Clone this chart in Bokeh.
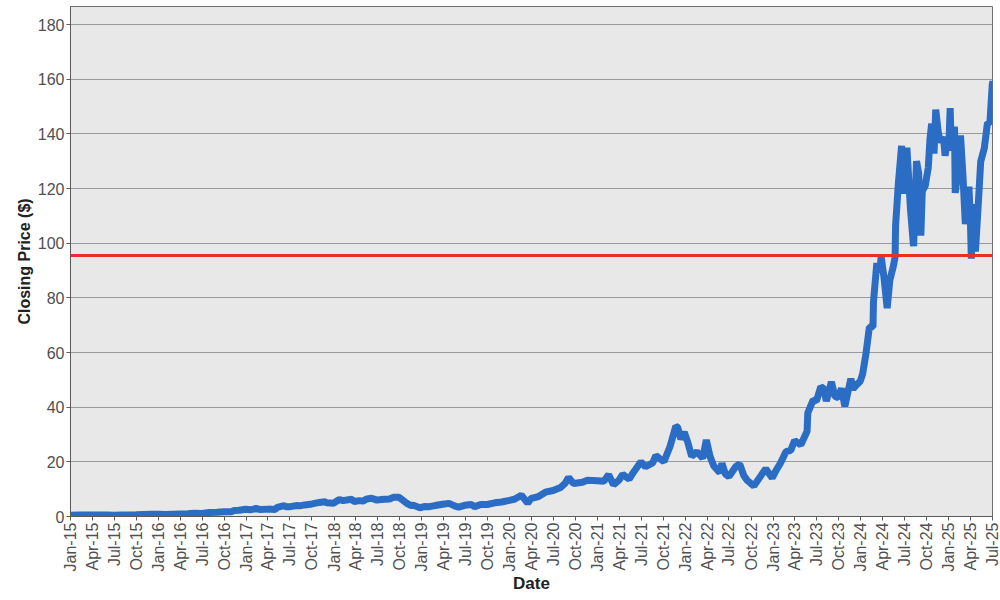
import pandas as pd
from math import pi
from bokeh.plotting import figure
from bokeh.models import FixedTicker, DatetimeTickFormatter, Span, Range1d, ColumnDataSource
from bokeh.embed import file_html
from bokeh.resources import INLINE

# ---- data ----
dates = [
    "2015-01-02", "2015-02-02", "2015-03-02", "2015-04-01", "2015-05-01", "2015-06-01", "2015-07-01",
    "2015-08-03", "2015-09-01", "2015-10-01", "2015-11-02", "2015-12-01",
    "2016-01-04", "2016-02-01", "2016-03-01", "2016-04-01", "2016-05-02", "2016-05-13", "2016-06-01",
    "2016-07-01", "2016-08-01", "2016-09-01", "2016-10-03", "2016-11-01", "2016-11-11", "2016-12-01", "2016-12-30",
    "2017-01-17", "2017-02-01", "2017-02-10", "2017-03-01", "2017-04-03", "2017-05-01", "2017-05-10",
    "2017-06-08", "2017-06-15", "2017-07-03", "2017-08-01", "2017-08-11", "2017-09-01", "2017-10-02",
    "2017-11-01", "2017-11-24", "2017-12-01", "2017-12-29",
    "2018-01-23", "2018-02-08", "2018-03-01", "2018-03-13", "2018-03-27", "2018-04-16", "2018-05-01",
    "2018-05-14", "2018-06-06", "2018-06-28", "2018-07-16", "2018-08-01", "2018-08-20", "2018-09-04",
    "2018-09-28", "2018-10-10", "2018-10-29", "2018-11-16", "2018-11-27", "2018-12-24",
    "2019-01-15", "2019-02-01", "2019-02-25", "2019-03-29", "2019-04-24", "2019-05-17", "2019-06-03",
    "2019-06-28", "2019-07-25", "2019-08-09", "2019-09-03", "2019-09-30", "2019-10-31", "2019-11-29", "2019-12-31",
    "2020-01-21", "2020-02-19", "2020-03-16", "2020-03-31", "2020-04-30", "2020-05-29", "2020-06-30",
    "2020-07-31", "2020-08-19", "2020-09-02", "2020-09-23", "2020-10-30", "2020-11-20", "2020-12-31",
    "2021-01-27", "2021-02-16", "2021-03-08", "2021-03-31", "2021-04-15", "2021-05-12", "2021-05-31",
    "2021-06-30", "2021-07-19", "2021-08-18", "2021-08-31", "2021-09-20", "2021-10-04", "2021-10-29",
    "2021-11-22", "2021-11-30", "2021-12-13", "2021-12-27",
    "2022-01-10", "2022-01-27", "2022-02-18", "2022-03-14", "2022-03-29", "2022-04-14", "2022-04-29",
    "2022-05-24", "2022-06-02", "2022-06-16", "2022-07-01", "2022-07-29", "2022-08-15", "2022-08-31",
    "2022-09-15", "2022-09-30", "2022-10-13", "2022-10-31", "2022-11-23", "2022-12-01", "2022-12-28",
    "2023-01-13", "2023-01-31", "2023-02-23", "2023-03-15", "2023-03-31", "2023-04-26", "2023-05-22",
    "2023-05-25", "2023-06-16", "2023-06-30", "2023-07-18", "2023-07-31", "2023-08-10", "2023-08-31",
    "2023-09-15", "2023-09-29", "2023-10-12", "2023-10-26", "2023-11-20", "2023-11-30", "2023-12-13", "2023-12-29",
    "2024-01-08", "2024-01-22", "2024-02-05", "2024-02-20", "2024-02-22", "2024-03-07", "2024-03-19",
    "2024-03-25", "2024-04-05", "2024-04-19", "2024-04-30", "2024-05-14", "2024-05-22", "2024-05-24",
    "2024-06-05", "2024-06-18", "2024-06-24", "2024-07-10", "2024-07-25", "2024-08-05", "2024-08-07",
    "2024-08-19", "2024-08-28", "2024-09-06", "2024-09-12", "2024-09-24", "2024-10-07", "2024-10-14",
    "2024-10-21", "2024-10-31", "2024-11-07", "2024-11-18", "2024-11-26", "2024-12-09", "2024-12-16",
    "2024-12-20", "2024-12-31",
    "2025-01-06", "2025-01-10", "2025-01-24", "2025-01-27", "2025-02-05", "2025-02-18", "2025-02-28",
    "2025-03-10", "2025-03-25", "2025-03-31", "2025-04-04", "2025-04-09", "2025-04-21", "2025-05-01",
    "2025-05-13", "2025-05-28", "2025-06-10", "2025-06-20", "2025-06-30", "2025-07-03",
]
close = [
    0.48, 0.55, 0.54, 0.53, 0.54, 0.55, 0.49, 0.55, 0.55, 0.62, 0.76, 0.82,
    0.78, 0.72, 0.86, 0.90, 0.88, 1.10, 1.18, 1.14, 1.45, 1.56, 1.74, 1.72, 2.22, 2.30, 2.67,
    2.50, 2.70, 2.96, 2.53, 2.70, 2.60, 3.30, 3.95, 3.60, 3.60, 4.05, 3.90, 4.24, 4.60, 5.15, 5.40, 5.00, 4.84,
    6.20, 5.80, 6.10, 6.30, 5.50, 5.80, 5.62, 6.30, 6.70, 6.00, 6.20, 6.30, 6.40, 7.00, 7.00, 6.20, 4.90,
    4.00, 4.10, 3.20,
    3.70, 3.60, 4.00, 4.50, 4.80, 3.90, 3.40, 4.10, 4.40, 3.60, 4.40, 4.40, 5.00, 5.30, 5.90,
    6.30, 7.80, 4.90, 6.60, 7.30, 8.90, 9.50, 10.6, 12.2, 14.3, 12.1, 12.5, 13.3, 13.1,
    12.9, 15.3, 11.6, 13.3, 15.4, 13.7, 16.3, 20.0, 18.2, 19.6, 22.3, 20.9, 20.1, 25.6, 33.0, 32.6, 28.3, 30.9,
    27.4, 22.0, 23.7, 21.3, 28.0, 21.8, 18.5, 16.0, 19.5, 15.6, 14.6, 18.2, 19.2, 15.1, 13.2, 12.1, 11.2,
    13.5, 16.5, 17.5, 14.1,
    16.9, 19.5, 23.7, 24.2, 27.8, 26.2, 31.2, 37.9, 42.6, 42.3, 47.5, 46.7, 42.2, 49.3, 43.9, 43.5, 46.9,
    40.3, 50.4, 46.8, 48.1, 49.5,
    52.2, 59.7, 69.3, 69.4, 78.5, 92.7, 89.4, 95.0, 88.0, 76.2, 86.4, 91.3, 94.9, 106.5, 122.4, 135.6,
    118.1, 134.9, 112.3, 100.5, 98.9, 130.0, 125.6, 102.8, 119.1, 120.9, 127.7, 138.1, 143.7, 132.8,
    148.9, 140.2, 136.9, 138.8, 132.0, 134.7, 134.3,
    149.4, 135.9, 142.6, 118.4, 124.8, 139.4, 124.9, 107.0, 120.7, 108.4, 94.3, 114.3, 96.9, 111.6,
    129.9, 134.8, 144.0, 143.9, 158.0, 159.3,
]
reference_level = 95.5
tick_dates = [
    "2015-01-01", "2015-04-01", "2015-07-01", "2015-10-01",
    "2016-01-01", "2016-04-01", "2016-07-01", "2016-10-01",
    "2017-01-01", "2017-04-01", "2017-07-01", "2017-10-01",
    "2018-01-01", "2018-04-01", "2018-07-01", "2018-10-01",
    "2019-01-01", "2019-04-01", "2019-07-01", "2019-10-01",
    "2020-01-01", "2020-04-01", "2020-07-01", "2020-10-01",
    "2021-01-01", "2021-04-01", "2021-07-01", "2021-10-01",
    "2022-01-01", "2022-04-01", "2022-07-01", "2022-10-01",
    "2023-01-01", "2023-04-01", "2023-07-01", "2023-10-01",
    "2024-01-01", "2024-04-01", "2024-07-01", "2024-10-01",
    "2025-01-01", "2025-04-01", "2025-07-01",
]
y_ticks = [0, 20, 40, 60, 80, 100, 120, 140, 160, 180]
x_title = "Date"
y_title = "Closing Price ($)"

def to_ms(s):
    return [float(v) for v in (pd.to_datetime(s).astype("int64") // 10**6)]

src = ColumnDataSource(dict(x=pd.to_datetime(dates), y=close))
tick_ms = to_ms(tick_dates)

p = figure(width=1000, height=600, x_axis_type="datetime",
           output_backend="svg", toolbar_location=None,
           x_range=Range1d(tick_ms[0], tick_ms[-1]),
           y_range=Range1d(0, 186.6),
           min_border_left=70, min_border_right=8, min_border_top=6, min_border_bottom=84)

p.background_fill_color = "#E8E8E8"
p.border_fill_color = "white"
p.outline_line_color = "#6E6E6E"
p.outline_line_width = 1

p.xgrid.grid_line_color = None
p.ygrid.grid_line_color = "#9A9A9A"
p.ygrid.grid_line_width = 1

p.line("x", "y", source=src, line_color="#2B6CC4", line_width=7)
p.add_layout(Span(location=reference_level, dimension="width",
                  line_color="#E8302A", line_width=3))

p.xaxis.ticker = FixedTicker(ticks=tick_ms)
fmt = "%b-%y"
p.xaxis.formatter = DatetimeTickFormatter(milliseconds=fmt, seconds=fmt, minsec=fmt, minutes=fmt,
                                          hourmin=fmt, hours=fmt, days=fmt, months=fmt, years=fmt)
p.xaxis.major_label_orientation = pi / 2
p.yaxis.ticker = FixedTicker(ticks=y_ticks)

for ax in (p.xaxis, p.yaxis):
    ax.axis_line_color = "#5A5A5A"
    ax.major_tick_line_color = "#5A5A5A"
    ax.major_tick_out = 4
    ax.major_tick_in = 0
    ax.minor_tick_line_color = None
    ax.major_label_text_font = "Liberation Sans"
    ax.major_label_text_font_size = "16px"
    ax.major_label_text_color = "#505050"
    ax.axis_label_text_font = "Liberation Sans"
    ax.axis_label_text_font_size = "16px"
    ax.axis_label_text_font_style = "bold"
    ax.axis_label_text_color = "#222222"
    ax.axis_label_text_line_height = 1.0
    ax.major_label_standoff = 2

p.xaxis.axis_label = x_title
p.xaxis.axis_label_text_font_size = "17px"
p.xaxis.axis_label_standoff = 0
p.yaxis.axis_label = y_title
p.yaxis.axis_label_standoff = 2

open("out.html", "w").write(file_html(p, INLINE))
